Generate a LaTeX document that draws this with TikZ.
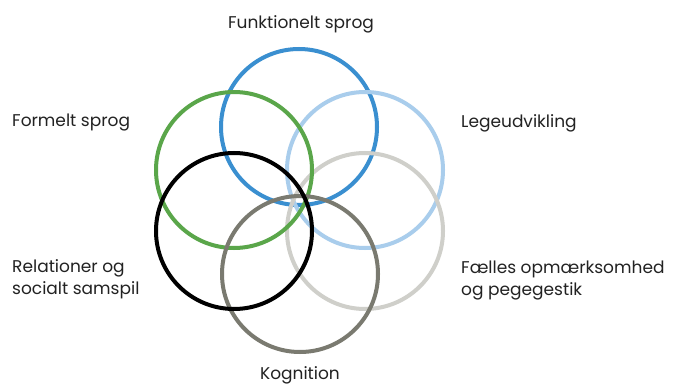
\documentclass[tikz,border=0pt]{standalone}
\usepackage{fontspec}
\setmainfont{Poppins}
\definecolor{cblue}{HTML}{3A8FD0}
\definecolor{clblue}{HTML}{A9CDEC}
\definecolor{clgray}{HTML}{CFCFCA}
\definecolor{cgreen}{HTML}{5AA64A}
\definecolor{cdgray}{HTML}{7A7A70}
\definecolor{ctext}{HTML}{222222}
\begin{document}
\begin{tikzpicture}[x=1pt,y=-1pt,
  ring/.style={draw, circle, line width=4pt, minimum size=156pt, inner sep=0pt},
  lbl/.style={font=\fontsize{17}{22}\selectfont, text=ctext, inner sep=0pt},
  lleft/.style={lbl, anchor=west, align=left}]
\useasboundingbox[fill=white] (0,0) rectangle (674,385);
\node[ring, draw=cblue] (fun) at (299,127) {};
\node[ring, draw=clblue] (leg) at (365,170) {};
\node[ring, draw=clgray] (fael) at (365,231) {};
\node[ring, draw=cgreen] (form) at (234,170) {};
\node[ring, draw=cdgray] (kog) at (300,274) {};
\node[ring, draw=black] (rel) at (234,231) {};
\node[lbl] (tfun) at (301,24) {Funktionelt sprog};
\node[lleft] (tform) at (12,123) {Formelt sprog};
\node[lleft] (tleg) at (461,123) {Legeudvikling};
\node[lleft] (trel) at (12,279) {Relationer og\\socialt samspil};
\node[lleft] (tfael) at (461,281) {Fælles opmærksomhed\\og pegegestik};
\node[lbl] (tkog) at (300,375) {Kognition};
\end{tikzpicture}
\end{document}
